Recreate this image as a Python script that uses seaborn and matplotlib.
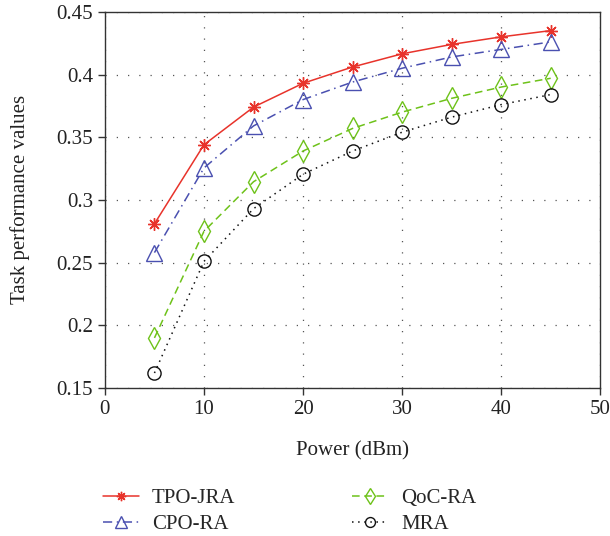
import matplotlib
matplotlib.use("Agg")
import matplotlib.pyplot as plt
import seaborn as sns
import pandas as pd
from matplotlib.ticker import FuncFormatter
from matplotlib.lines import Line2D

power = [5, 10, 15, 20, 25, 30, 35, 40, 45]
tpo_jra = [0.281, 0.344, 0.374, 0.393, 0.406, 0.4165, 0.424, 0.430, 0.435]
cpo_ra = [0.258, 0.3255, 0.359, 0.380, 0.394, 0.405, 0.414, 0.420, 0.426]
qoc_ra = [0.190, 0.275, 0.3145, 0.339, 0.357, 0.370, 0.381, 0.390, 0.397]
mra = [0.162, 0.251, 0.293, 0.3205, 0.339, 0.354, 0.366, 0.376, 0.384]

series_names = ["TPO-JRA", "CPO-RA", "QoC-RA", "MRA"]
xticks = [0, 10, 20, 30, 40, 50]
yticks = [0.15, 0.2, 0.25, 0.3, 0.35, 0.4, 0.45]

sns.set_theme(style="white")
plt.rcParams['font.family'] = ['Liberation Serif', 'DejaVu Serif']

fig = plt.figure(figsize=(6.10, 5.36), dpi=100)
ax = fig.add_axes([0.172, 0.276, 0.812, 0.702])

styles = [
    dict(color="#e8332b", linestyle="-", marker=(8, 2, 0), ms=9, mew=1.0),
    dict(color="#4a50b0", linestyle=(0, (6, 3, 1, 3)), marker="^", ms=11, mew=1.0),
    dict(color="#6ec21a", linestyle=(0, (5, 3)), marker="d", ms=11, mew=1.0),
    dict(color="#111111", linestyle=(0, (1, 3)), marker="o", ms=9.5, mew=1.0),
]
data = [tpo_jra, cpo_ra, qoc_ra, mra]

for name, vals, st in zip(series_names, data, styles):
    df = pd.DataFrame({"Power": power, "Value": vals})
    sns.lineplot(data=df, x="Power", y="Value", ax=ax, color=st["color"],
                 linestyle=st["linestyle"], marker=st["marker"], markersize=st["ms"],
                 markeredgewidth=st["mew"], markerfacecolor="none",
                 markeredgecolor=st["color"], linewidth=1.1, label=name, legend=False)

ax.set_xlim(0, 50)
ax.set_ylim(0.15, 0.45)
ax.set_xticks(xticks)
ax.set_yticks(yticks)
ax.yaxis.set_major_formatter(FuncFormatter(lambda v, p: f"{v:g}"))
ax.grid(True, color="#555555", linestyle=(0, (1, 8)), linewidth=0.9)
for s in ax.spines.values():
    s.set_color("#333333")
    s.set_linewidth(1.0)
ax.tick_params(axis="both", which="both", direction="out", length=5, width=1,
               colors="#333333", labelsize=15, labelcolor="#222222",
               bottom=True, left=True, top=False, right=False)
ax.set_xlabel("Power (dBm)", fontsize=15, color="#222222", labelpad=16)
ax.set_ylabel("Task performance values", fontsize=15, color="#222222", labelpad=19)

leg_handles = []
for name, st in zip(series_names, styles):
    leg_handles.append(Line2D([], [], color=st["color"], linestyle=st["linestyle"],
                              marker=st["marker"], markersize=st["ms"] * 0.75,
                              markerfacecolor="none", markeredgecolor=st["color"],
                              linewidth=1.1))
fig.legend(leg_handles, series_names, loc="upper left", bbox_to_anchor=(0.155, 0.104),
           ncol=2, frameon=False, fontsize=15, handlelength=1.75, columnspacing=5.6,
           labelspacing=0.3, handletextpad=0.6, borderaxespad=0.0)

fig.savefig("out.png", dpi=100)
